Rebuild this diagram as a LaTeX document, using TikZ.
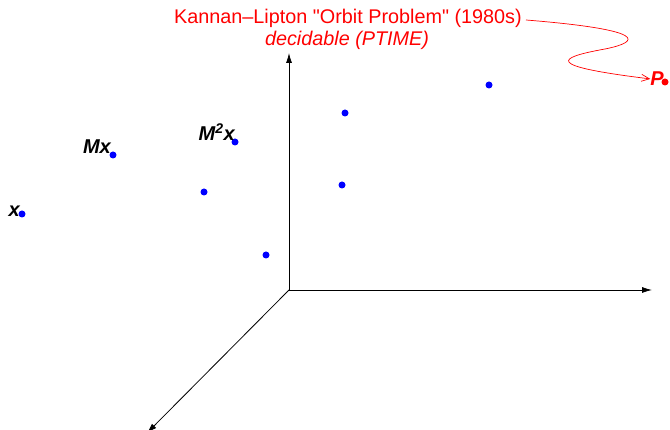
\documentclass[tikz,border=0pt]{standalone}
\usepackage{fontspec}
\setmainfont{Liberation Sans}[Ligatures=TeXOff]
\usetikzlibrary{arrows.meta}
\definecolor{dotblue}{RGB}{0,0,255}
\definecolor{myred}{RGB}{255,0,0}
\begin{document}
\begin{tikzpicture}[x=1pt,y=-1pt,
  pt/.style={circle,fill=dotblue,inner sep=0pt,minimum size=7pt},
  rpt/.style={circle,fill=myred,inner sep=0pt,minimum size=7pt},
  lab/.style={font=\fontsize{20}{22}\selectfont\bfseries\itshape,inner sep=0pt},
  axis/.style={line width=0.8pt,-{Latex[length=10pt,width=6pt]}},
  redtxt/.style={text=myred,font=\fontsize{19.8}{22}\selectfont,inner sep=0pt}]
\useasboundingbox (0,0) rectangle (670,430);
% axes
\coordinate (O) at (289,290);
\coordinate (up) at (289,53);
\coordinate (right) at (652,290);
\coordinate (diag) at (147,433);
\draw[axis] (O) -- (up);
\draw[axis] (O) -- (right);
\draw[axis] (O) -- (diag);
% points
\node[pt] (p0) at (22,214) {};
\node[pt] (p1) at (113,155) {};
\node[pt] (p2) at (235,142) {};
\node[pt] (p3) at (204,192) {};
\node[pt] (p4) at (266,255) {};
\node[pt] (p5) at (345,113) {};
\node[pt] (p6) at (342,185) {};
\node[pt] (p7) at (489,85) {};
\node[rpt] (P) at (665,82) {};
% labels
\node[lab,anchor=south east] (lx) at (20,217) {x};
\node[lab,anchor=south east] (lmx) at (111,154) {Mx};
\node[lab,anchor=south east] (lm2x) at (235,141) {M\textsuperscript{2}x};
\node[lab,text=myred,anchor=south east] (lP) at (664,86) {P};
% red text
\node[redtxt] (t1) at (348,18) {Kannan–Lipton "Orbit Problem" (1980s)};
\node[redtxt,font=\fontsize{19.8}{22}\selectfont\itshape] (t2) at (347,40) {decidable (PTIME)};
\draw[myred,line width=0.7pt,-{Straight Barb[length=8pt,width=7pt]}]
  (t1.east) ++(4,2) .. controls (650,30) and (640,42) .. (605,49)
  .. controls (555,58) and (545,66) .. (lP.west);
\end{tikzpicture}
\end{document}
